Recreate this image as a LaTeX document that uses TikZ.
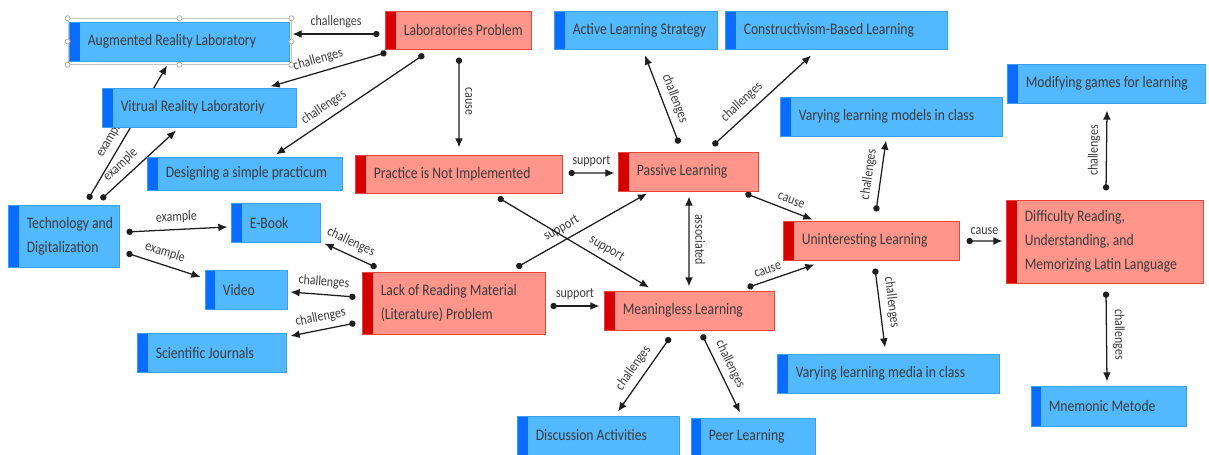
\documentclass[tikz,border=0pt]{standalone}
\usepackage{fontspec}
\setmainfont{Carlito}[FakeStretch=0.85]
\usetikzlibrary{arrows.meta,backgrounds,fit}
\definecolor{bluefill}{HTML}{52B9FF}
\definecolor{blueline}{HTML}{3A9FF0}
\definecolor{bluestripe}{HTML}{0A6BFF}
\definecolor{redfill}{HTML}{FF958B}
\definecolor{redline}{HTML}{E8433C}
\definecolor{redstripe}{HTML}{D60000}
\definecolor{inkgray}{HTML}{3B3B3B}
\definecolor{linkgray}{HTML}{1E1E1E}

\begin{document}
\begin{tikzpicture}[x=0.025cm, y=-0.025cm,
      every node/.append style={font=\fontsize{11.4}{17}\selectfont},
      box/.style={rectangle, line width=0.7pt, inner sep=0pt,
        path picture={\fill[#1] (path picture bounding box.north west) rectangle ([xshift=0.25cm]path picture bounding box.south west);}},
      concept/.style={box=bluestripe, draw=blueline, fill=bluefill},
      problem/.style={box=redstripe, draw=redline, fill=redfill},
      size/.style 2 args={minimum width=#1cm, minimum height=#2cm},
      boxtext/.style={anchor=west, label distance=-0.45cm, inner sep=0pt, align=left, text=inkgray},
      link/.style={draw=linkgray, line width=0.9pt, {Circle[length=4.5pt]}-{Latex[length=6.5pt,width=5.5pt]}},
      both/.style={draw=linkgray, line width=0.9pt, {Latex[length=6.5pt,width=5.5pt]}-{Latex[length=6.5pt,width=5.5pt]}}]
    \tikzstyle{rel} = [sloped, above=3pt, inner sep=1pt, font=\fontsize{10}{12}\selectfont, text=inkgray]
    \useasboundingbox (0,0) rectangle (1209,454);
    \node[concept, size={5.475}{0.975}, label={[boxtext]west:Augmented Reality Laboratory}] (augmented) at (179.5,41.5) {};
    \node[problem, size={3.625}{0.95}, label={[boxtext]west:Laboratories Problem}] (labs) at (458.5,30) {};
    \node[concept, size={4.05}{0.95}, label={[boxtext]west:Active Learning Strategy}] (active) at (636,30) {};
    \node[concept, size={5.525}{0.95}, label={[boxtext]west:Constructivism-Based Learning}] (constructivism) at (836.5,30) {};
    \node[concept, size={4.825}{0.975}, label={[boxtext]west:Vitrual Reality Laboratoriy}] (virtual) at (199.5,107.5) {};
    \node[concept, size={4.925}{0.975}, label={[boxtext]west:Modifying games for learning}] (games) at (1106.5,83.5) {};
    \node[concept, size={5.525}{0.975}, label={[boxtext]west:Varying learning models in class}] (models) at (891.5,116.5) {};
    \node[concept, size={4.85}{0.825}, label={[boxtext]west:Designing a simple practicum}] (practicum) at (245,173.5) {};
    \node[problem, size={5.15}{0.95}, label={[boxtext]west:Practice is Not Implemented}] (practice) at (459,174) {};
    \node[problem, size={3.475}{0.975}, label={[boxtext]west:Passive Learning}] (passive) at (688.5,171.5) {};
    \node[concept, size={2.75}{1.55}, label={[boxtext]west:{Technology and\\Digitalization}}] (tech) at (64,236) {};
    \node[concept, size={2.2}{0.975}, label={[boxtext]west:E-Book}] (ebook) at (276,222.5) {};
    \node[problem, size={4.375}{0.975}, label={[boxtext]west:Uninteresting Learning}] (uninteresting) at (871.5,240.5) {};
    \node[problem, size={4.9}{2.075}, label={[boxtext]west:{Difficulty Reading,\\Understanding, and\\Memorizing Latin Language}}] (difficulty) at (1105,241.5) {};
    \node[concept, size={2.05}{0.975}, label={[boxtext]west:Video}] (video) at (246,289.5) {};
    \node[problem, size={4.55}{1.55}, label={[boxtext]west:{Lack of Reading Material\\(Literature) Problem}}] (literature) at (454,303) {};
    \node[problem, size={4.225}{0.975}, label={[boxtext]west:Meaningless Learning}] (meaningless) at (689.5,310.5) {};
    \node[concept, size={3.7}{0.975}, label={[boxtext]west:Scientific Journals}] (journals) at (212,352.5) {};
    \node[concept, size={5.525}{0.975}, label={[boxtext]west:Varying learning media in class}] (media) at (888.5,373.5) {};
    \node[concept, size={3.875}{1}, label={[boxtext]west:Mnemonic Metode}] (mnemonic) at (1108.5,406) {};
    \node[concept, size={4.025}{0.975}, label={[boxtext]west:Discussion Activities}] (discussion) at (598.5,435.5) {};
    \node[concept, size={3.1}{0.925}, label={[boxtext]west:Peer Learning}] (peer) at (753,436.5) {};
    \node[fit=(augmented), draw=gray!45, line width=0.4pt, inner xsep=0.04cm, inner ysep=0.075cm] (select) {};
    \foreach \a in {north west,north,north east,east,south east,south,south west,west}
      \filldraw[fill=white, draw=gray!70, line width=0.5pt] (select.\a) circle (1.8pt);
    \begin{pgfonlayer}{background}
      \draw[link] ([shift={(-6,4)}]labs.west) to node[rel] {challenges} ([shift={(3,-7.5)}]augmented.east);
      \draw[link] ([shift={(1,3)}]labs.south west) to node[rel, pos=0.56] {challenges} ([shift={(-26,-1)}]virtual.north east);
      \draw[link] ([shift={(-34.5,5)}]labs.south) to node[rel, pos=0.63] {challenges} ([shift={(31,-2)}]practicum.north);
      \draw[link] ([shift={(0.5,8)}]labs.south) to node[rel, pos=0.49] {cause} ([shift={(0,-7)}]practice.north);
      \draw[link] ([shift={(24,-5)}]tech.north) to node[rel, pos=0.41] {example} ([shift={(-12.5,4)}]augmented.south);
      \draw[link] ([shift={(37,-5)}]tech.north) to node[rel, pos=0.37] {example} ([shift={(-23.5,3)}]virtual.south);
      \draw[link] ([shift={(7,-4)}]tech.east) to node[rel] {example} ([shift={(-4,4.5)}]ebook.west);
      \draw[link] ([shift={(7,17)}]tech.east) to node[rel, pos=0.47] {example} ([shift={(-4,-12.5)}]video.west);
      \draw[link] ([shift={(14,-4)}]literature.north west) to node[rel, pos=0.59] {challenges} ([shift={(4,1)}]ebook.south east);
      \draw[link] ([shift={(-7,-6)}]literature.west) to node[rel] {challenges} ([shift={(3,2.5)}]video.east);
      \draw[link] ([shift={(-7,20)}]literature.west) to node[rel] {challenges} ([shift={(4,-16.5)}]journals.east);
      \draw[link] ([shift={(5,3)}]literature.east) to node[rel] {support} ([shift={(-5,-4.5)}]meaningless.west);
      \draw[link] ([shift={(-29,-4)}]literature.north east) to node[rel, pos=0.39] {support} ([shift={(-41.5,2)}]passive.south);
      \draw[link] ([shift={(39,4)}]practice.south) to node[rel, pos=0.68] {support} ([shift={(-40.5,-3)}]meaningless.north);
      \draw[link] ([shift={(6,-1)}]practice.east) to node[rel] {support} ([shift={(-4,1.5)}]passive.west);
      \draw[link] ([shift={(-9.5,-8)}]passive.north) to node[rel, pos=0.46] {challenges} ([shift={(9,6)}]active.south);
      \draw[link] ([shift={(24.5,-6)}]passive.north) to node[rel, pos=0.38] {challenges} ([shift={(-25.5,6)}]constructivism.south);
      \draw[both] ([shift={(0.5,5)}]passive.south) to node[rel, pos=0.48] {associated} ([shift={(-0.5,-4)}]meaningless.north);
      \draw[link] ([shift={(-13,2)}]passive.south east) to node[rel, pos=0.63] {cause} ([shift={(29,-1)}]uninteresting.north west);
      \draw[link] ([shift={(-27,-3)}]meaningless.north east) to node[rel, pos=0.35] {cause} ([shift={(31,4)}]uninteresting.south west);
      \draw[link] ([shift={(4.5,-9)}]uninteresting.north) to node[rel] {challenges} ([shift={(-5.5,4)}]models.south);
      \draw[link] ([shift={(3.5,8)}]uninteresting.south) to node[rel, pos=0.45] {challenges} ([shift={(-3.5,-6)}]media.north);
      \draw[link] ([shift={(7,0.5)}]uninteresting.east) to node[rel] {cause} ([shift={(-4,-0.5)}]difficulty.west);
      \draw[link] ([shift={(1,-9)}]difficulty.north) to node[rel] {challenges} ([shift={(0.5,7)}]games.south);
      \draw[link] ([shift={(1,8)}]difficulty.south) to node[rel, pos=0.48] {challenges} ([shift={(-1.5,-4)}]mnemonic.north);
      \draw[link] ([shift={(-19.5,7)}]meaningless.south) to node[rel, pos=0.51] {challenges} ([shift={(19.5,-4)}]discussion.north);
      \draw[link] ([shift={(12.5,4)}]meaningless.south) to node[rel, pos=0.45] {challenges} ([shift={(-13,-5)}]peer.north);
    \end{pgfonlayer}
\end{tikzpicture}
\end{document}
